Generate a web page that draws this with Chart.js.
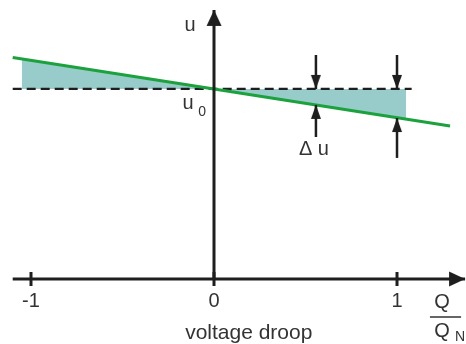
<!DOCTYPE html>
<html>
<head>
<meta charset="utf-8">
<script src="https://cdn.jsdelivr.net/npm/chart.js@4/dist/chart.umd.min.js"></script>
<style>
html, body { margin: 0; padding: 0; background: #fff; }
#wrap { width: 466px; height: 344px; }
</style>
</head>
<body>
<div id="wrap"><canvas id="droop" width="466" height="344"></canvas></div>
<script>
// voltage droop u(Q/QN) (u0 = 1, axis at 0)
const droopQ = [-1.1, 0, 1.29];
const droopU = [1.166, 1, 0.805];
// shaded part between the droop line and u0
const shadeQ = [-1.05, 0, 1.05];
const shadeU = [1.159, 1, 0.84];
// dashed u0 reference
const refQ = [-1.1, 1.08];
const u0 = 1;
// x axis ticks
const xTicks = [-1, 0, 1];
const xTickLabels = ['-1', '0', '1'];
// delta u markers
const deltaQ = [0.557, 1.0];
const deltaTop = [1.179, 1.179];
const deltaTip = [0.916, 0.847];
const deltaBottom = [0.747, 0.637];
// axis extents
const qAxis = [-1.1, 1.372];
const uAxisTop = 1.416;

const INK = '#1e1e1e';
const FONT = 'Liberation Sans';

// arrow head image, tip sits on the point itself
function arrowHead(len, w) {
  const s = Math.ceil(len) * 2 + 2;
  const c = document.createElement('canvas');
  c.width = s; c.height = s;
  const g = c.getContext('2d');
  const m = s / 2;
  g.fillStyle = INK;
  g.beginPath();
  g.moveTo(m, m);
  g.lineTo(m - w / 2, m + len);
  g.lineTo(m + w / 2, m + len);
  g.closePath();
  g.fill();
  return c;
}
const bigHead = arrowHead(16, 15);
const smallHead = arrowHead(14, 10);

function pts(xs, ys) { return xs.map((x, i) => ({x: x, y: ys[i]})); }

function segment(data, extra) {
  return Object.assign({
    type: 'line', data: data, borderColor: INK, borderWidth: 3,
    pointRadius: 0, fill: false, tension: 0
  }, extra);
}

const datasets = [];
// axes with arrows
datasets.push(segment(pts(qAxis, [0, 0]), {pointRadius: [0, 2], pointStyle: bigHead, pointRotation: 90}));
datasets.push(segment([{x: 0, y: 0}, {x: 0, y: uAxisTop}], {pointRadius: [0, 2], pointStyle: bigHead, pointRotation: 0}));
// tick marks across the x axis
datasets.push({type: 'scatter', data: xTicks.map(v => ({x: v, y: 0})), pointStyle: 'line',
  pointRadius: 7, pointRotation: 90, borderColor: INK, pointBorderWidth: 3, showLine: false});
// delta u arrows
deltaQ.forEach((q, i) => {
  datasets.push(segment([{x: q, y: deltaTop[i]}, {x: q, y: u0}],
    {borderWidth: 2.5, pointRadius: [0, 2], pointStyle: smallHead, pointRotation: 180}));
  datasets.push(segment([{x: q, y: deltaBottom[i]}, {x: q, y: deltaTip[i]}],
    {borderWidth: 2.5, pointRadius: [0, 2], pointStyle: smallHead, pointRotation: 0}));
});
// droop line
datasets.push(segment(pts(droopQ, droopU), {borderColor: '#1ba23c', borderWidth: 3}));
// u0 dashed line
datasets.push(segment(pts(refQ, [u0, u0]), {borderWidth: 2.2, borderDash: [9, 5]}));
// shaded area
datasets.push(segment(pts(shadeQ, shadeU), {borderWidth: 0, backgroundColor: '#97cccb', fill: {value: u0}}));

// text notes (position in chart units)
const notes = [
  {text: 'u', q: -0.131, u: 1.332, size: 20},
  {text: 'u', q: -0.142, u: 0.925, size: 20},
  {text: '0', q: -0.065, u: 0.88, size: 14},
  {text: '\u0394 u', q: 0.546, u: 0.679, size: 20},
  {text: 'Q', q: 1.246, u: -0.121, size: 20},
  {text: 'Q', q: 1.246, u: -0.275, size: 20},
  {text: 'N', q: 1.345, u: -0.305, size: 14},
  {text: 'voltage droop', q: 0.19, u: -0.284, size: 21}
];

const notesPlugin = {
  id: 'notes',
  afterDatasetsDraw(chart) {
    const ctx = chart.ctx, xs = chart.scales.x, ys = chart.scales.y;
    ctx.save();
    ctx.fillStyle = '#333';
    ctx.textAlign = 'center';
    ctx.textBaseline = 'middle';
    notes.forEach(n => {
      ctx.font = n.size + 'px "' + FONT + '"';
      ctx.fillText(n.text, xs.getPixelForValue(n.q), ys.getPixelForValue(n.u));
    });
    // fraction bar of Q / QN
    const yb = ys.getPixelForValue(-0.2);
    ctx.strokeStyle = '#333';
    ctx.lineWidth = 1.5;
    ctx.beginPath();
    ctx.moveTo(xs.getPixelForValue(1.18), yb);
    ctx.lineTo(xs.getPixelForValue(1.35), yb);
    ctx.stroke();
    ctx.restore();
  }
};

new Chart(document.getElementById('droop'), {
  type: 'line',
  data: {datasets: datasets},
  options: {
    responsive: false,
    animation: false,
    devicePixelRatio: 1,
    events: [],
    layout: {padding: 0, autoPadding: false},
    plugins: {legend: {display: false}, tooltip: {enabled: false}},
    scales: {
      x: {
        type: 'linear', min: -1.1694, max: 1.377,
        position: {y: 0},
        grid: {display: false, drawTicks: false},
        border: {display: false},
        afterBuildTicks: s => { s.ticks = xTicks.map(v => ({value: v})); },
        ticks: {
          padding: 10, color: '#333', maxRotation: 0,
          font: {family: FONT, size: 20},
          callback: (v, i) => xTickLabels[i]
        }
      },
      y: {type: 'linear', min: -0.342, max: 1.468, display: false}
    }
  },
  plugins: [notesPlugin]
});
</script>
</body>
</html>
